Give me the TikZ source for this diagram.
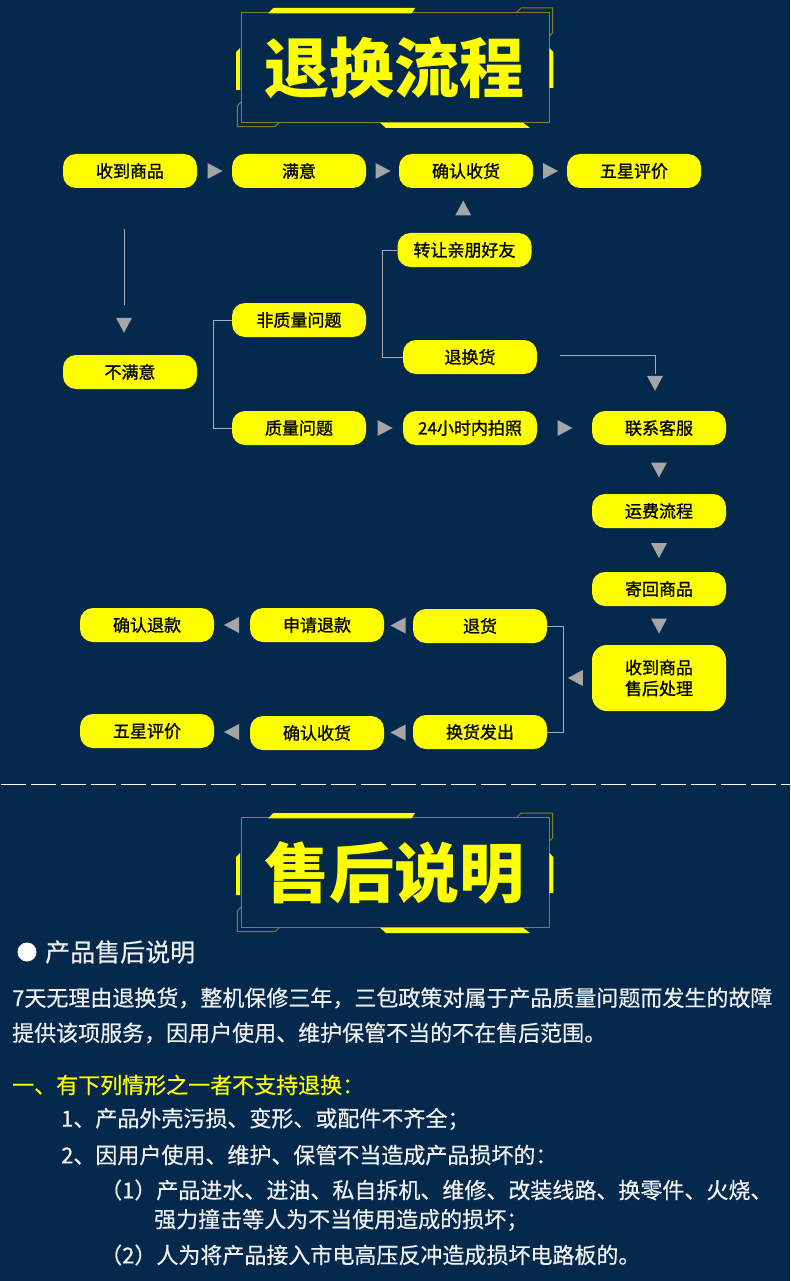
\documentclass[tikz,border=0pt]{standalone}
\usepackage{fontspec}
\setmainfont{Noto Sans CJK SC}
\newfontfamily\boxfont{Noto Sans CJK SC}[FakeBold=1.2]
\newfontfamily\parafont{Noto Sans CJK SC}[FakeBold=0.5]
\usetikzlibrary{calc}
\definecolor{bg}{RGB}{4,41,76}
\definecolor{yel}{RGB}{255,255,0}
\definecolor{trigray}{RGB}{165,165,165}
\definecolor{lingray}{RGB}{170,170,175}
\definecolor{olv}{RGB}{130,130,40}
\definecolor{txt}{RGB}{240,240,240}
\tikzset{
  box/.style={fill=yel, rounded corners=13pt, minimum width=134pt, minimum height=34pt, inner sep=0pt, text=black, font=\boxfont\fontsize{17}{21}\selectfont, align=center},
  conn/.style={draw=lingray, line width=0.9pt},
  rtri/.pic={\fill[trigray] (-7,-8) -- (8,0) -- (-7,8) -- cycle;},
  ltri/.pic={\fill[trigray] (7,-8) -- (-8,0) -- (7,8) -- cycle;},
  dtri/.pic={\fill[trigray] (-8,-7) -- (8,-7) -- (0,8) -- cycle;},
  utri/.pic={\fill[trigray] (-8,7) -- (8,7) -- (0,-8) -- cycle;},
  para/.style={anchor=west, inner sep=0pt, text=txt, font=\parafont\fontsize{22}{26}\selectfont},
}
\begin{document}
\begin{tikzpicture}[x=1pt,y=-1pt]
\fill[bg] (0,0) rectangle (790,1281);
\useasboundingbox (0,0) rectangle (790,1281);

% ---------- title frames ----------
\foreach \dy/\ttl in {0/退换流程, 805/售后说明}{
  \begin{scope}[shift={(0,\dy)}]
    \draw[olv, line width=1pt] (241,12.7) rectangle (549.3,122.7);
    \draw[olv, line width=1pt] (516,13) -- (521,8) -- (552.5,8) -- (552.5,33) -- (549.3,36);
    \draw[olv, line width=1pt] (241,102) -- (237.3,106) -- (237.3,126.7) -- (275,126.7) -- (279,122.7);
    \fill[yel] (268.3,13.3) -- (273.3,8) -- (415,8) -- (411.7,13.3) -- cycle;
    \fill[yel] (380,122.7) -- (523,122.7) -- (530,128) -- (386,128) -- cycle;
    \fill[yel] (236,52) -- (240,48) -- (240,90) -- (236,90) -- cycle;
    \fill[yel] (549.3,48) -- (553.3,52) -- (553.3,88) -- (549.3,88) -- cycle;
    \node[text=yel, font=\bfseries\fontsize{65}{65}\selectfont, inner sep=0pt] (t\dy) at (394,68) {\ttl};
  \end{scope}
}

% ---------- flow nodes ----------
\node[box] (a1) at (130,171) {收到商品};
\node[box] (a2) at (299,171) {满意};
\node[box] (a3) at (466,171) {确认收货};
\node[box] (a4) at (634,171) {五星评价};
\node[box] (zr) at (464.5,250) {转让亲朋好友};
\node[box] (fz) at (299,320) {非质量问题};
\node[box] (bm) at (130,372) {不满意};
\node[box] (th) at (470,357) {退换货};
\node[box] (zl) at (299,428) {质量问题};
\node[box] (pz) at (470,428) {24小时内拍照};
\node[box] (lx) at (659,428) {联系客服};
\node[box] (yf) at (659,511) {运费流程};
\node[box] (jh) at (659,589) {寄回商品};
\node[box, minimum height=66pt, rounded corners=15pt] (sh) at (659,678) {收到商品\\售后处理};
\node[box] (tg) at (480,626) {退货};
\node[box] (sq) at (317,625) {申请退款};
\node[box] (qt) at (147,625) {确认退款};
\node[box] (hh) at (480,732) {换货发出};
\node[box] (qs) at (317,733) {确认收货};
\node[box] (wx) at (147,731) {五星评价};

% ---------- connectors ----------
\pic at ($(a1.east)!0.5!(a2.west)$) {rtri};
\pic at ($(a2.east)!0.5!(a3.west)$) {rtri};
\pic at ($(a3.east)!0.5!(a4.west)$) {rtri};
\pic at ($(zr.north)!0.5!(a3.south)+(-2,-2)$) {utri};

\coordinate (v1) at ($(a1.south)+(-6,41)$);
\coordinate (v2) at ($(a1.south)+(-6,117)$);
\draw[conn] (v1) -- (v2);
\pic at ($(bm.north)+(-6,-30)$) {dtri};

\draw[conn] (fz.west) -- ++(-18,0) |- (zl.west);
\draw[conn] (zr.west) -- ++(-15,0) |- (th.west);

\coordinate (w1) at ($(th.east)+(23,-2)$);
\coordinate (w2) at ($(lx.north)+(-4,-37)$);
\draw[conn] (w1) -| (w2);
\pic at ($(lx.north)+(-4,-28)$) {dtri};

\pic at ($(zl.east)!0.5!(pz.west)$) {rtri};
\pic at ($(pz.east)!0.5!(lx.west)$) {rtri};
\pic at ($(lx.south)!0.5!(yf.north)$) {dtri};
\pic at ($(yf.south)!0.5!(jh.north)$) {dtri};
\pic at ($(jh.south)!0.5!(sh.north)$) {dtri};

\draw[conn] (tg.east) -- ++(16,0) |- (hh.east);
\pic at ($(sh.west)+(-16,0)$) {ltri};
\pic at ($(sq.east)!0.5!(tg.west)$) {ltri};
\pic at ($(qt.east)!0.5!(sq.west)$) {ltri};
\pic at ($(qs.east)!0.5!(hh.west)$) {ltri};
\pic at ($(wx.east)!0.5!(qs.west)$) {ltri};

% ---------- separator ----------
\draw[white, line width=1pt, dash pattern=on 25pt off 5pt, dash phase=29pt] (0,784) -- (790,784);

% ---------- after-sales text ----------
\fill[white] (27,952) circle (9.5);
\node[anchor=west, inner sep=0pt, text=txt, font=\parafont\fontsize{25}{28}\selectfont] (h1) at (45,952) {产品售后说明};
\node[para] (p1) at (12,998) {7天无理由退换货，整机保修三年，三包政策对属于产品质量问题而发生的故障};
\node[para] (p2) at (12,1033) {提供该项服务，因用户使用、维护保管不当的不在售后范围。};
\node[para, text=yel] (p3) at (12,1085) {一、有下列情形之一者不支持退换：};
\node[para] (p4) at (61,1119) {1、产品外壳污损、变形、或配件不齐全；};
\node[para] (p5) at (61,1155) {2、因用户使用、维护、保管不当造成产品损坏的：};
\node[para] (p6) at (100,1190) {（1）产品进水、进油、私自拆机、维修、改装线路、换零件、火烧、};
\node[para] (p7) at (154,1220) {强力撞击等人为不当使用造成的损坏；};
\node[para] (p8) at (100,1255) {（2）人为将产品接入市电高压反冲造成损坏电路板的。};
\end{tikzpicture}
\end{document}
